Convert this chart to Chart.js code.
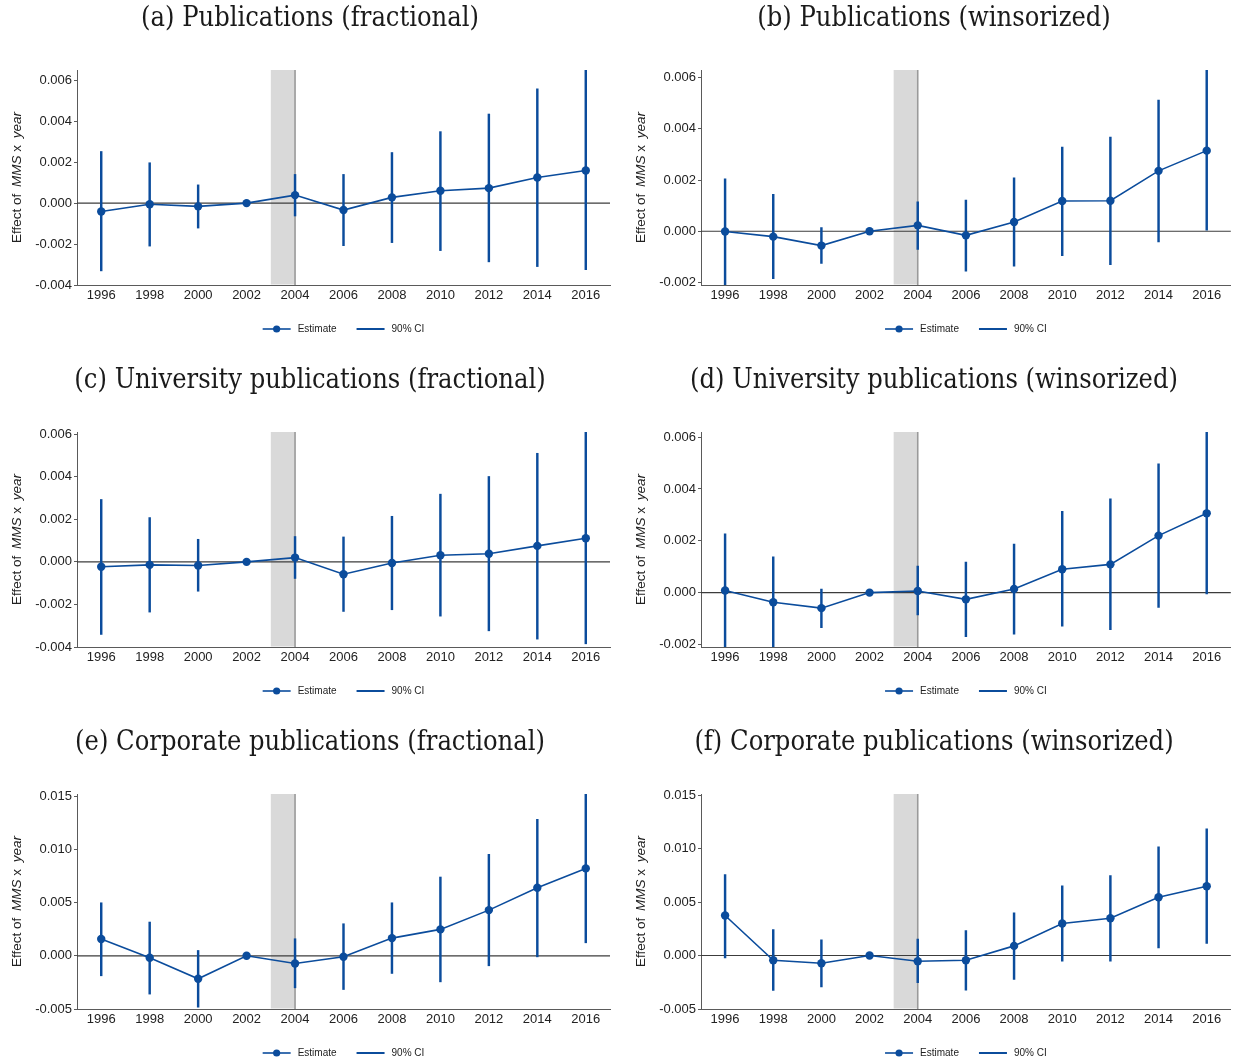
<!DOCTYPE html>
<html>
<head>
<meta charset="utf-8">
<script src="https://cdn.jsdelivr.net/npm/chart.js@4.4.0/dist/chart.umd.min.js"></script>
<style>
  html, body { margin: 0; padding: 0; background: #fff; }
  #wrap { position: relative; width: 1235px; height: 1062px; overflow: hidden; }
  #wrap canvas { position: absolute; }
</style>
</head>
<body>
<div id="wrap"></div>
<script>
// Event-study years and tick labels
const years = [1996, 1998, 2000, 2002, 2004, 2006, 2008, 2010, 2012, 2014, 2016];
const ticksSmall = [-0.004, -0.002, 0, 0.002, 0.004, 0.006];
const ticksTrim = [-0.002, 0, 0.002, 0.004, 0.006];
const ticksWide = [-0.005, 0, 0.005, 0.010, 0.015];

// Panel titles
const titles = [
  '(a) Publications (fractional)',
  '(b) Publications (winsorized)',
  '(c) University publications (fractional)',
  '(d) University publications (winsorized)',
  '(e) Corporate publications (fractional)',
  '(f) Corporate publications (winsorized)'
];

// (a) Publications, fractional: estimate and 90% CI bounds (2002 is the reference year)
const estA = [-0.00041, -0.00006, -0.00016, 0, 0.00039, -0.00034, 0.00028, 0.00060, 0.00073, 0.00125, 0.00159];
const loA  = [-0.00331, -0.00210, -0.00122, null, -0.00063, -0.00208, -0.00193, -0.00232, -0.00287, -0.00310, -0.00325];
const hiA  = [0.00252, 0.00197, 0.00089, null, 0.00140, 0.00140, 0.00247, 0.00349, 0.00435, 0.00558, 0.00650];

// (b) Publications, winsorized
const estB = [-0.00001, -0.00021, -0.00056, 0, 0.00023, -0.00016, 0.00036, 0.00118, 0.00119, 0.00236, 0.00315];
const loB  = [-0.00210, -0.00185, -0.00126, null, -0.00071, -0.00156, -0.00136, -0.00095, -0.00131, -0.00042, 0.00004];
const hiB  = [0.00205, 0.00144, 0.00014, null, 0.00115, 0.00122, 0.00209, 0.00329, 0.00368, 0.00512, 0.00630];

// (c) University publications, fractional
const estC = [-0.00023, -0.00014, -0.00017, 0, 0.00020, -0.00058, -0.00005, 0.00031, 0.00038, 0.00075, 0.00111];
const loC  = [-0.00341, -0.00236, -0.00138, null, -0.00078, -0.00233, -0.00225, -0.00255, -0.00324, -0.00363, -0.00385];
const hiC  = [0.00293, 0.00208, 0.00106, null, 0.00119, 0.00117, 0.00214, 0.00318, 0.00401, 0.00510, 0.00610];

// (d) University publications, winsorized
const estD = [0.00008, -0.00037, -0.00060, 0, 0.00006, -0.00026, 0.00014, 0.00090, 0.00109, 0.00220, 0.00306];
const loD  = [-0.00210, -0.00210, -0.00135, null, -0.00086, -0.00170, -0.00160, -0.00130, -0.00143, -0.00057, -0.00005];
const hiD  = [0.00227, 0.00138, 0.00014, null, 0.00102, 0.00118, 0.00187, 0.00314, 0.00362, 0.00497, 0.00620];

// (e) Corporate publications, fractional
const estE = [0.00157, -0.00019, -0.00216, 0, -0.00072, -0.00009, 0.00166, 0.00248, 0.00429, 0.00639, 0.00821];
const loE  = [-0.00188, -0.00360, -0.00483, null, -0.00301, -0.00317, -0.00166, -0.00245, -0.00094, -0.00010, 0.00122];
const hiE  = [0.00498, 0.00317, 0.00050, null, 0.00160, 0.00301, 0.00498, 0.00740, 0.00953, 0.01282, 0.01520];

// (f) Corporate publications, winsorized
const estF = [0.00374, -0.00044, -0.00072, 0, -0.00053, -0.00044, 0.00090, 0.00299, 0.00349, 0.00545, 0.00648];
const loF  = [-0.00022, -0.00327, -0.00293, null, -0.00255, -0.00324, -0.00224, -0.00053, -0.00053, 0.00072, 0.00112];
const hiF  = [0.00757, 0.00243, 0.00146, null, 0.00153, 0.00234, 0.00399, 0.00651, 0.00748, 0.01016, 0.01184];

// Shaded treatment window
const shadeFrom = 2003;
const shadeTo = 2004;

const BLUE = '#0b4c9c';
const SANS = '"Liberation Sans", Arial, sans-serif';
const SERIF = '"DejaVu Serif Condensed", "DejaVu Serif", "Liberation Serif", serif';

const panels = [
  { title: titles[0], est: estA, lo: loA, hi: hiA, yMin: -0.004, yMax: 0.0065, yTicks: ticksSmall },
  { title: titles[1], est: estB, lo: loB, hi: hiB, yMin: -0.0021, yMax: 0.0063, yTicks: ticksTrim },
  { title: titles[2], est: estC, lo: loC, hi: hiC, yMin: -0.004, yMax: 0.0061, yTicks: ticksSmall },
  { title: titles[3], est: estD, lo: loD, hi: hiD, yMin: -0.0021, yMax: 0.0062, yTicks: ticksTrim },
  { title: titles[4], est: estE, lo: loE, hi: hiE, yMin: -0.005, yMax: 0.0152, yTicks: ticksWide },
  { title: titles[5], est: estF, lo: loF, hi: hiF, yMin: -0.005, yMax: 0.0151, yTicks: ticksWide }
];

// Frame geometry for each panel canvas
const CANVAS_H = 338;
const AXIS_LEFT = 77;
const AREA_RIGHT = 610;
const AREA_TOP = 70;
const AREA_BOTTOM = 285;
const X_AXIS_H = 22;

// Shading, zero line, panel title, mixed-style y title and legend
const decor = {
  id: 'decor',
  beforeDatasetsDraw(chart) {
    const { ctx, chartArea: ca, scales: { x, y } } = chart;
    ctx.save();
    const x0 = x.getPixelForValue(shadeFrom);
    const x1 = x.getPixelForValue(shadeTo);
    ctx.fillStyle = '#d9d9d9';
    ctx.fillRect(x0, ca.top, x1 - x0, ca.bottom - ca.top - 0.5);
    ctx.strokeStyle = '#9a9a9a';
    ctx.lineWidth = 1.6;
    ctx.beginPath();
    ctx.moveTo(x1, ca.top);
    ctx.lineTo(x1, ca.bottom);
    ctx.stroke();
    const y0 = y.getPixelForValue(0);
    ctx.strokeStyle = '#3c3c3c';
    ctx.lineWidth = 1.2;
    ctx.beginPath();
    ctx.moveTo(ca.left, y0);
    ctx.lineTo(ca.right, y0);
    ctx.stroke();
    ctx.restore();
  },
  afterDraw(chart, args, opts) {
    const { ctx, chartArea: ca } = chart;
    ctx.save();
    // panel title
    ctx.fillStyle = '#1a1a1a';
    ctx.font = '27px ' + SERIF;
    ctx.textAlign = 'center';
    ctx.textBaseline = 'middle';
    ctx.fillText(opts.title, 310, 19);

    // y-axis title: "Effect of MMS x year" with italic variable names
    const parts = [
      ['Effect of ', false, 3], ['MMS', true, 0], [' x ', false, 3], ['year', true, 0]
    ];
    const fontFor = it => (it ? 'italic ' : '') + '13.5px ' + SANS;
    let total = 0;
    parts.forEach(([t, it, extra]) => { ctx.font = fontFor(it); total += ctx.measureText(t).width + extra; });
    ctx.translate(17, (ca.top + ca.bottom) / 2);
    ctx.rotate(-Math.PI / 2);
    ctx.textAlign = 'left';
    ctx.textBaseline = 'middle';
    ctx.fillStyle = '#222';
    let px = -total / 2;
    parts.forEach(([t, it, extra]) => {
      ctx.font = fontFor(it);
      ctx.fillText(t, px, 0);
      px += ctx.measureText(t).width + extra;
    });
    ctx.setTransform(1, 0, 0, 1, 0, 0);

    // legend centred under the plot area
    ctx.font = '10px ' + SANS;
    const sym = 28, gap = 7, sep = 20;
    const w1 = ctx.measureText('Estimate').width;
    const w2 = ctx.measureText('90% CI').width;
    const tot = sym + gap + w1 + sep + sym + gap + w2;
    let lx = (ca.left + ca.right) / 2 - tot / 2;
    const ly = 329;
    ctx.strokeStyle = BLUE;
    ctx.fillStyle = BLUE;
    ctx.lineWidth = 1.6;
    ctx.beginPath(); ctx.moveTo(lx, ly); ctx.lineTo(lx + sym, ly); ctx.stroke();
    ctx.beginPath(); ctx.arc(lx + sym / 2, ly, 3.6, 0, Math.PI * 2); ctx.fill();
    lx += sym + gap;
    ctx.fillStyle = '#222';
    ctx.textAlign = 'left';
    ctx.textBaseline = 'middle';
    ctx.fillText('Estimate', lx, ly);
    lx += w1 + sep;
    ctx.lineWidth = 2;
    ctx.beginPath(); ctx.moveTo(lx, ly); ctx.lineTo(lx + sym, ly); ctx.stroke();
    lx += sym + gap;
    ctx.fillText('90% CI', lx, ly);
    ctx.restore();
  }
};

const wrap = document.getElementById('wrap');

panels.forEach((p, i) => {
  const col = i % 2, row = Math.floor(i / 2);
  const left = col === 0 ? 0 : 624;
  const width = col === 0 ? 620 : 1235 - 624;
  const canvas = document.createElement('canvas');
  canvas.width = width;
  canvas.height = CANVAS_H;
  canvas.style.left = left + 'px';
  canvas.style.top = (row * 362) + 'px';
  canvas.style.width = width + 'px';
  canvas.style.height = CANVAS_H + 'px';
  wrap.appendChild(canvas);

  const estPts = years.map((yr, k) => ({ x: yr, y: p.est[k] }));
  const ciBars = years
    .map((yr, k) => (p.lo[k] === null ? null : { x: yr, y: [p.lo[k], p.hi[k]] }))
    .filter(d => d !== null);

  new Chart(canvas, {
    type: 'line',
    data: {
      datasets: [
        {
          type: 'line',
          label: 'Estimate',
          data: estPts,
          borderColor: BLUE,
          backgroundColor: BLUE,
          borderWidth: 1.6,
          pointRadius: 4.2,
          pointHoverRadius: 4.2,
          pointBorderWidth: 0,
          tension: 0,
          order: 0
        },
        {
          type: 'bar',
          label: '90% CI',
          data: ciBars,
          backgroundColor: BLUE,
          borderWidth: 0,
          barThickness: 1.8,
          grouped: false,
          order: 1
        }
      ]
    },
    options: {
      responsive: false,
      animation: false,
      devicePixelRatio: 1,
      events: [],
      layout: {
        padding: { top: AREA_TOP, left: 0, right: width - AREA_RIGHT, bottom: CANVAS_H - AREA_BOTTOM - X_AXIS_H }
      },
      plugins: {
        legend: { display: false },
        title: { display: false },
        tooltip: { enabled: false },
        decor: { title: p.title }
      },
      scales: {
        x: {
          type: 'linear',
          min: 1995,
          max: 2017,
          offset: false,
          afterBuildTicks: s => { s.ticks = years.map(v => ({ value: v })); },
          afterFit: s => { s.height = X_AXIS_H; },
          grid: { display: false, drawTicks: false, tickLength: 0 },
          border: { display: true, color: '#5a5a5a', width: 1 },
          ticks: {
            autoSkip: false,
            maxRotation: 0,
            padding: 3,
            color: '#222',
            font: { family: SANS, size: 13 },
            callback: v => String(v)
          }
        },
        y: {
          type: 'linear',
          min: p.yMin,
          max: p.yMax,
          afterBuildTicks: s => { s.ticks = p.yTicks.map(v => ({ value: v })); },
          afterFit: s => { s.width = AXIS_LEFT; },
          grid: { display: true, drawOnChartArea: false, drawTicks: true, tickLength: 3, color: '#5a5a5a' },
          border: { display: true, color: '#5a5a5a', width: 1 },
          ticks: {
            padding: 2,
            color: '#222',
            font: { family: SANS, size: 13 },
            callback: v => Number(v).toFixed(3)
          }
        }
      }
    },
    plugins: [decor]
  });
});
</script>
</body>
</html>
